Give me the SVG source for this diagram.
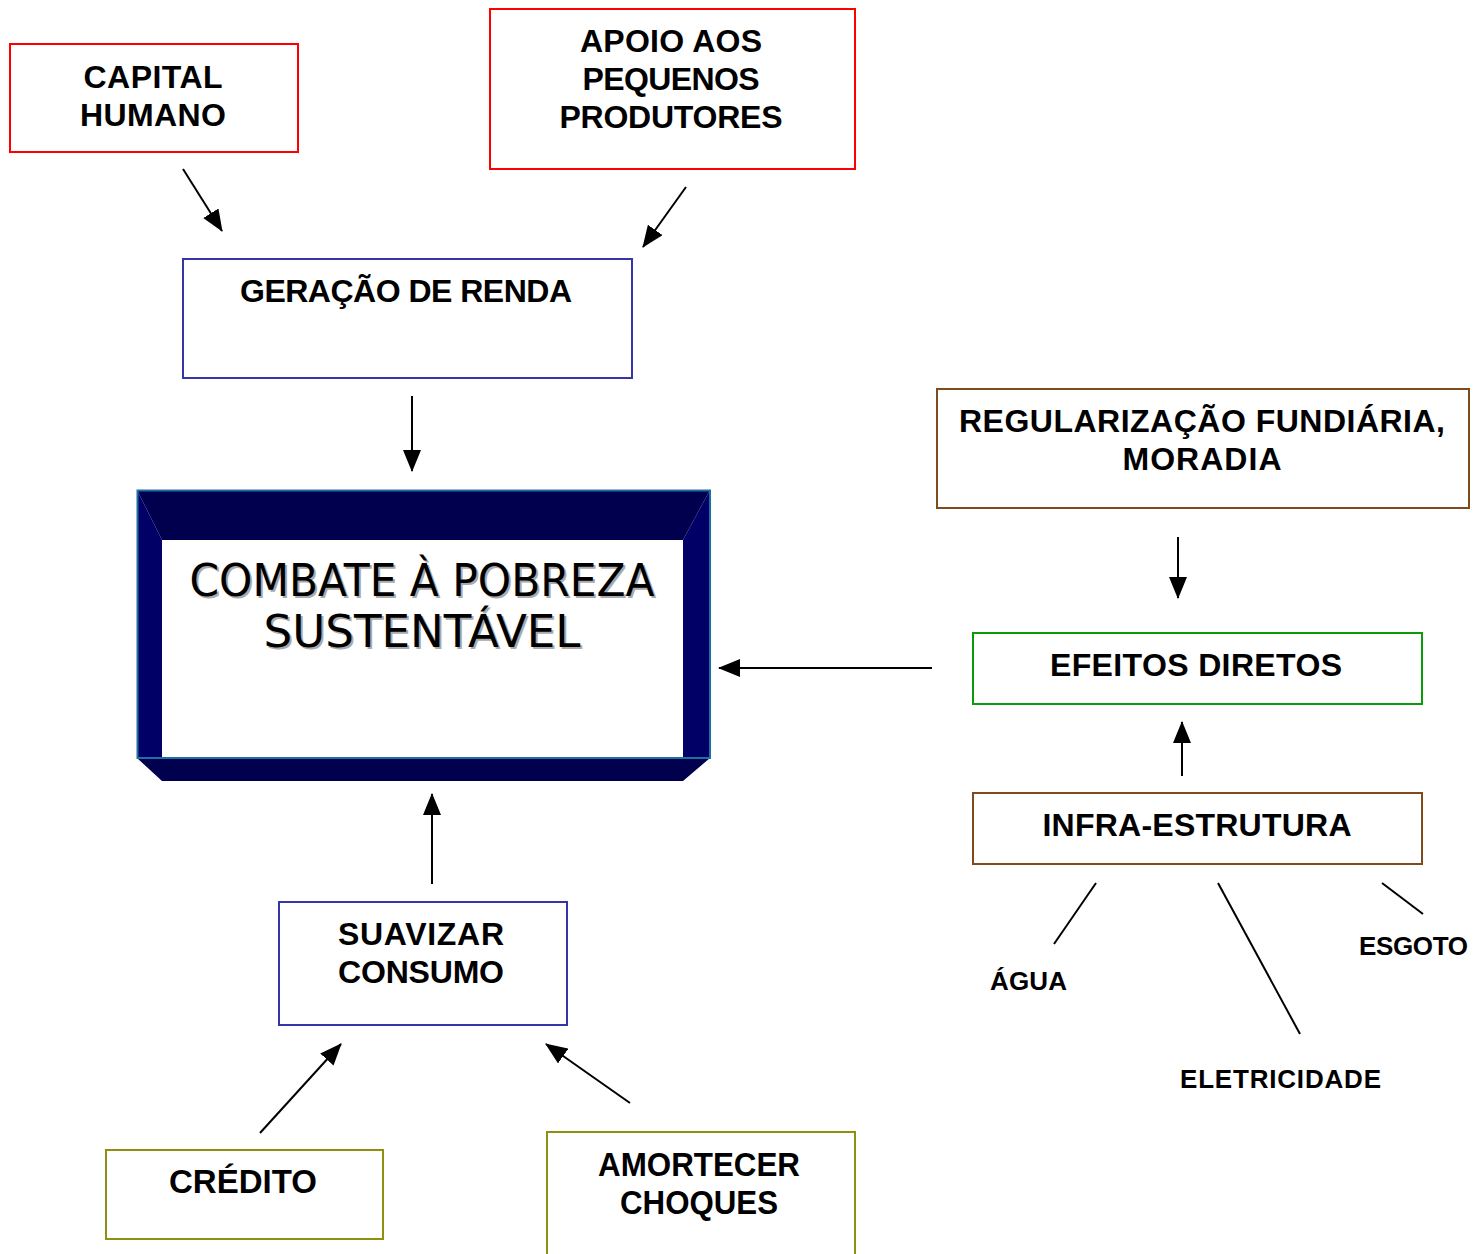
<svg xmlns="http://www.w3.org/2000/svg" width="1475" height="1254" viewBox="0 0 1475 1254">
<defs>
<marker id="ah" viewBox="0 0 22 18" refX="21" refY="9" markerWidth="22" markerHeight="18" markerUnits="userSpaceOnUse" orient="auto">
<path d="M0,0 L22,9 L0,18 Z" fill="#000"/>
</marker>
</defs>
<style>
.box{fill:#fff;stroke-width:2}
.red{stroke:#ff0000}
.blue{stroke:#3535a5}
.brown{stroke:#7f4a1c}
.green{stroke:#0a9a0a}
.olive{stroke:#8f8f10}
.lbl{font-family:"Liberation Sans",Arial,sans-serif;font-weight:bold;font-size:32px;fill:#000;text-anchor:middle}
.nar{font-family:"Liberation Sans Narrow","Liberation Sans",Arial,sans-serif;font-weight:bold;font-size:34px;fill:#000;text-anchor:middle}
.sm{font-family:"Liberation Sans",Arial,sans-serif;font-weight:bold;font-size:26px;fill:#000}
.big{font-family:"DejaVu Sans","Liberation Sans",sans-serif;font-size:44px;text-anchor:middle}
.conn line{stroke:#000;stroke-width:2}
.arr{marker-end:url(#ah)}
</style>
<rect width="1475" height="1254" fill="#fff"/>

<g id="capital-humano">
<rect class="box red" x="10" y="44" width="288" height="108"/>
<text class="lbl" x="153" y="88" textLength="139" lengthAdjust="spacing">CAPITAL</text>
<text class="lbl" x="153" y="126" textLength="146" lengthAdjust="spacing">HUMANO</text>
</g>

<g id="apoio-pequenos-produtores">
<rect class="box red" x="490" y="9" width="365" height="160"/>
<text class="lbl" x="671" y="52" textLength="182" lengthAdjust="spacing">APOIO AOS</text>
<text class="lbl" x="671" y="90" textLength="177" lengthAdjust="spacing">PEQUENOS</text>
<text class="lbl" x="671" y="128" textLength="223" lengthAdjust="spacing">PRODUTORES</text>
</g>

<g id="geracao-de-renda">
<rect class="box blue" x="183" y="259" width="449" height="119"/>
<text class="lbl" x="406" y="302" textLength="332" lengthAdjust="spacing">GERAÇÃO DE RENDA</text>
</g>

<g id="combate-pobreza">
<polygon points="137,490 710,490 683,540 162,540" fill="#00004e"/>
<polygon points="137,490 162,540 162,758 137,758" fill="#000066"/>
<polygon points="710,490 683,540 683,758 710,758" fill="#000066"/>
<polygon points="137,758 710,758 683,781 162,781" fill="#00004e"/>
<rect x="162" y="540" width="521" height="218" fill="#fff"/>
<rect x="137.5" y="490.5" width="572.5" height="267.5" fill="none" stroke="#1f6fa3" stroke-width="2"/>
<g class="big">
<text x="424" y="598" fill="#aaa" textLength="465" lengthAdjust="spacingAndGlyphs">COMBATE À POBREZA</text>
<text x="424" y="649" fill="#aaa" textLength="317" lengthAdjust="spacingAndGlyphs">SUSTENTÁVEL</text>
<text x="422" y="596" fill="#000" textLength="465" lengthAdjust="spacingAndGlyphs">COMBATE À POBREZA</text>
<text x="422" y="647" fill="#000" textLength="317" lengthAdjust="spacingAndGlyphs">SUSTENTÁVEL</text>
</g>
</g>

<g id="regularizacao-fundiaria">
<rect class="box brown" x="937" y="389" width="532" height="119"/>
<text class="lbl" x="1202" y="432" textLength="486" lengthAdjust="spacing">REGULARIZAÇÃO FUNDIÁRIA,</text>
<text class="lbl" x="1202" y="470" textLength="159" lengthAdjust="spacing">MORADIA</text>
</g>

<g id="efeitos-diretos">
<rect class="box green" x="973" y="633" width="449" height="71"/>
<text class="lbl" x="1196" y="676" textLength="292" lengthAdjust="spacing">EFEITOS DIRETOS</text>
</g>

<g id="infra-estrutura">
<rect class="box brown" x="973" y="793" width="449" height="71"/>
<text class="lbl" x="1197" y="836" textLength="309" lengthAdjust="spacing">INFRA-ESTRUTURA</text>
</g>

<g id="agua"><text class="sm" x="990" y="990" textLength="77" lengthAdjust="spacing">ÁGUA</text></g>
<g id="esgoto"><text class="sm" x="1359" y="955" textLength="109" lengthAdjust="spacing">ESGOTO</text></g>
<g id="eletricidade"><text class="sm" x="1180" y="1088" textLength="201" lengthAdjust="spacing">ELETRICIDADE</text></g>

<g id="suavizar-consumo">
<rect class="box blue" x="279" y="902" width="288" height="123"/>
<text class="lbl" x="421" y="945" textLength="166" lengthAdjust="spacing">SUAVIZAR</text>
<text class="lbl" x="421" y="983" textLength="166" lengthAdjust="spacing">CONSUMO</text>
</g>

<g id="credito">
<rect class="box olive" x="106" y="1150" width="277" height="89"/>
<text class="nar" x="243" y="1193" textLength="148" lengthAdjust="spacingAndGlyphs">CRÉDITO</text>
</g>

<g id="amortecer-choques">
<rect class="box olive" x="547" y="1132" width="308" height="130"/>
<text class="nar" x="699" y="1176" textLength="202" lengthAdjust="spacingAndGlyphs">AMORTECER</text>
<text class="nar" x="699" y="1214" textLength="158" lengthAdjust="spacingAndGlyphs">CHOQUES</text>
</g>

<g id="connectors" class="conn">
<line class="arr" x1="183" y1="169" x2="222" y2="231"/>
<line class="arr" x1="686" y1="187" x2="643" y2="247"/>
<line class="arr" x1="412" y1="396" x2="412" y2="471"/>
<line class="arr" x1="932" y1="668" x2="719" y2="668"/>
<line class="arr" x1="1178" y1="537" x2="1178" y2="598"/>
<line class="arr" x1="1182" y1="776" x2="1182" y2="722"/>
<line class="arr" x1="432" y1="884" x2="432" y2="794"/>
<line class="arr" x1="260" y1="1133" x2="341" y2="1044"/>
<line class="arr" x1="630" y1="1103" x2="546" y2="1044"/>
<line x1="1096" y1="883" x2="1054" y2="944"/>
<line x1="1218" y1="883" x2="1300" y2="1034"/>
<line x1="1382" y1="883" x2="1423" y2="914"/>
</g>
</svg>
